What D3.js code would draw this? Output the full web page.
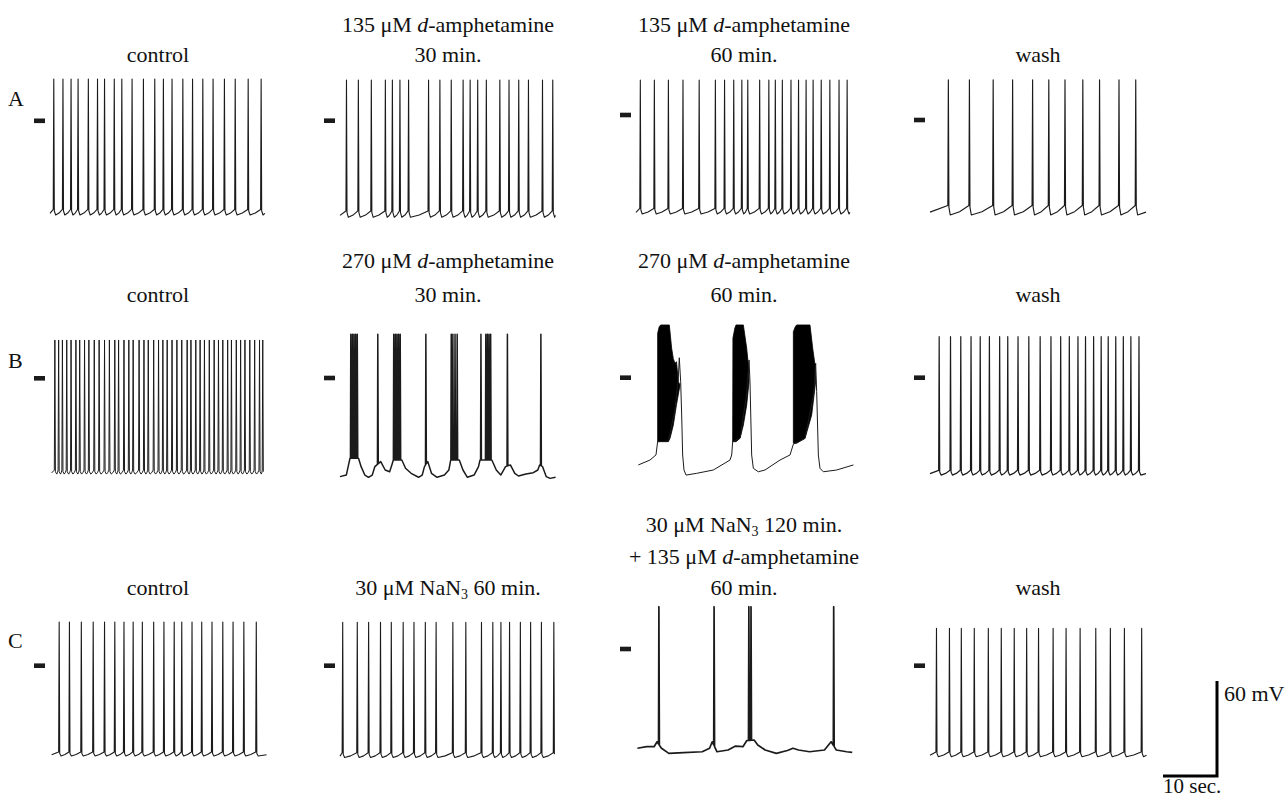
<!DOCTYPE html>
<html>
<head>
<meta charset="utf-8">
<script src="https://cdn.jsdelivr.net/npm/d3@7"></script>
<style>
  html, body { margin: 0; padding: 0; background: #fff; }
  svg { display: block; }
  text { font-family: "Liberation Serif", "Times New Roman", serif; fill: #111; }
</style>
</head>
<body>
<script>
// ---------------- DATA ----------------
const rowLabels = ["A", "B", "C"];

// Panel titles; _x_ = italic, ~x~ = subscript
const titlesA = [["control"], ["135 μM _d_-amphetamine", "30 min."], ["135 μM _d_-amphetamine", "60 min."], ["wash"]];
const titlesB = [["control"], ["270 μM _d_-amphetamine", "30 min."], ["270 μM _d_-amphetamine", "60 min."], ["wash"]];
const titlesC = [["control"], ["30 μM NaN~3~ 60 min."], ["30 μM NaN~3~ 120 min.", "+ 135 μM _d_-amphetamine", "60 min."], ["wash"]];

// Spike times (s) per panel
const spikesA1 = [0.7, 2.4, 3.9, 5.2, 7.1, 8.8, 10.1, 11.9, 13.3, 15.2, 17.3, 19.4, 21.0, 22.6, 24.6, 26.4, 28.3, 30.2, 32.3, 34.3, 36.7, 39.1];
const spikesA2 = [1.2, 3.4, 5.8, 8.4, 9.7, 11.1, 12.7, 16.4, 18.5, 20.6, 22.8, 24.1, 25.5, 27.1, 29.6, 31.3, 33.1, 34.9, 37.5, 39.4];
const spikesA3 = [0.8, 3.4, 6.0, 8.7, 11.7, 14.7, 16.4, 18.1, 19.6, 20.7, 22.9, 24.6, 25.8, 27.1, 28.7, 30.1, 31.5, 32.8, 34.3, 35.9, 37.6, 39.1];
const spikesA4 = [3.4, 7.3, 11.7, 15.3, 19.0, 22.0, 25.0, 28.3, 31.4, 35.0, 38.1];
const spikesB1 = [0.9, 1.6, 2.3, 3.1, 3.9, 4.8, 5.5, 6.4, 7.2, 8.2, 9.1, 10.1, 11.0, 12.0, 12.7, 13.7, 14.6, 15.4, 16.5, 17.4, 18.2, 19.2, 20.1, 20.9, 21.7, 22.6, 23.5, 24.4, 25.4, 26.1, 27.0, 27.8, 28.6, 29.5, 30.4, 31.2, 32.0, 32.9, 33.6, 34.5, 35.3, 36.1, 37.0, 37.9, 38.8, 39.4];
const spikesB2 = [2.0, 2.3, 2.6, 2.9, 3.2, 7.0, 9.95, 10.25, 10.55, 10.85, 11.15, 15.9, 20.6, 20.9, 21.3, 21.7, 26.1, 27.0, 27.3, 27.6, 27.9, 31.0, 37.2];
const spikesB4 = [1.7, 3.8, 5.7, 7.6, 9.3, 11.0, 12.9, 14.4, 16.3, 18.3, 20.4, 22.4, 24.2, 25.8, 27.4, 28.8, 30.3, 31.7, 33.0, 34.4, 35.8, 37.2, 38.7];
const spikesC1 = [1.7, 3.6, 5.8, 8.0, 10.1, 12.0, 13.7, 15.4, 17.1, 19.2, 21.1, 23.0, 24.4, 26.3, 28.1, 30.0, 32.0, 33.9, 35.9, 38.2];
const spikesC2 = [0.5, 3.2, 5.3, 7.5, 9.5, 11.7, 13.7, 15.8, 17.8, 20.9, 23.3, 26.2, 28.3, 29.8, 31.4, 33.4, 35.3, 37.3, 39.6];
const spikesC3 = [4.24, 14.46, 20.9, 21.3, 36.61];
const spikesC4 = [1.2, 3.6, 5.8, 8.2, 10.8, 13.2, 15.6, 17.9, 20.1, 22.8, 25.2, 27.8, 30.7, 33.4, 36.0, 39.2];

// Spike peak / pre-spike foot / after-hyperpolarisation trough (mV), rows A-C, columns 1-4
const peakMV   = [[26.4, 25.7, 22.0, 25.3], [24.2, 27.6, 12.6, 25.9], [27.6, 27.4, 26.7, 23.6]];
const footMV   = [[-56, -57, -59, -54], [-58, null, null, -58.5], [-54.5, -55, null, -54.5]];
const troughMV = [[-59.5, -61, -62.5, -60], [-60.5, null, null, -61.5], [-57, -58, null, -57.5]];
// recording start / end (s)
const traceSpan = [[[0, 39.8], [0, 39.9], [0, 39.6], [0, 40]], [[0.3, 39.6], [0, 39.9], [0.4, 40.25], [0, 40]], [[0.3, 40.1], [0, 39.9], [0.26, 40.04], [0, 40.1]]];

// Sub-threshold membrane potential [t (s), mV]
const baseB2 = [[0, -62.3], [1.17, -61.3], [1.51, -56], [1.85, -50.7], [3.43, -50.7], [3.91, -56], [4.6, -61.3], [5.28, -62.7], [5.97, -61.3], [6.45, -56], [7.54, -52.8], [8.37, -58.1], [9.19, -59.2], [9.6, -54.9], [9.88, -51.8], [11.45, -51.8], [12.14, -57], [13.17, -60.2], [14.54, -62.7], [15.23, -61.3], [15.64, -56], [16.26, -52.8], [16.94, -60.2], [17.97, -62.7], [19.34, -61.3], [20.16, -58.1], [20.5, -51.8], [22.09, -51.8], [22.77, -58.1], [23.59, -62.7], [24.83, -61.3], [25.65, -56], [25.93, -51.8], [28.12, -51.8], [28.94, -58.1], [29.77, -61.3], [30.66, -56], [31.55, -54.9], [32.37, -60.2], [33.06, -61.9], [34.43, -60.6], [35.8, -59.8], [36.63, -58.1], [36.97, -54.9], [37.52, -56], [38.2, -62.3], [38.9, -63.4], [39.92, -62.7]];
const baseC3 = [[0.26, -62.7], [1.98, -61.7], [3.35, -61.7], [3.9, -58.6], [4.72, -62.7], [6.09, -65.9], [8.83, -65.5], [12.26, -64.9], [13.63, -62.7], [14.11, -58.6], [15.0, -64.9], [17.06, -63.8], [18.43, -61.3], [19.8, -61.7], [20.5, -57.9], [21.87, -57.5], [22.55, -60.6], [23.92, -63.8], [25.98, -65.9], [28.04, -64.1], [29.07, -62.7], [30.1, -63.8], [32.15, -64.9], [34.9, -63.8], [36.13, -58.6], [37.09, -63.8], [39.01, -64.9], [40.04, -65.3]];

// B, 270 µM 60 min: membrane trace and high-frequency burst envelopes
const lineB3 = [[0.43, -55.1], [2.59, -52.0], [3.70, -48.8], [4.01, -40.4], [6.0, -40.0], [7.22, -20], [7.84, 0], [8.02, 12.6], [8.27, -2.5], [8.46, -23.6], [8.64, -48.8], [8.89, -58.3], [9.26, -61.5], [11.23, -60.4], [14.32, -58.3], [17.41, -52.0], [17.72, -48.8], [17.9, -40.4], [19.3, -38], [20.5, -10], [20.93, 11.2], [21.11, -2.5], [21.42, -48.8], [21.73, -57.2], [22.65, -59.4], [23.89, -58.3], [26.67, -52.0], [28.52, -48.8], [29.14, -42.0], [31.3, -38.3], [32.9, -10], [33.27, 9.1], [33.46, -8.8], [33.77, -48.8], [34.07, -57.2], [34.69, -59.4], [37.16, -58.3], [40.25, -55.1]];
const burstB3a = [[4.01, -40.4], [4.01, 28], [4.3, 32.2], [4.57, 33.3], [6.17, 33.3], [6.6, 18.6], [6.91, 12], [7.22, 9.1], [7.5, 10.1], [7.84, -2.5], [8.15, -4.6], [7.5, -17], [6.91, -29.9], [6.3, -38.3], [5.99, -40.4]];
const burstB3b = [[17.9, -40.4], [17.95, 25], [18.3, 31.2], [18.52, 33.3], [19.88, 33.3], [20.5, 18.6], [20.8, 8.0], [20.93, -2.5], [20.5, -17.2], [19.88, -29.9], [19.26, -38.3], [18.52, -40.4]];
const burstB3c = [[29.14, -41.4], [29.14, 29.1], [29.5, 32.2], [29.75, 33.3], [32.22, 33.3], [32.72, 18.6], [33.15, 8.0], [33.27, -2.5], [32.53, -23.6], [31.3, -38.3], [29.75, -41.4]];

// Calibration bars
const scaleBarSec = 10;
const scaleBarMV = 60;
const scaleBarLabels = ["60 mV", "10 sec."];

// ---------------- LAYOUT ----------------
const W = 1287, H = 800;
const colLeft = [50, 340, 636, 930];
const panelSpanSec = 40, panelW = 216;
const pxPerMV = 95 / 60;
const zeroY = [[120.8, 120.7, 115, 120], [378.3, 378, 377.7, 377.7], [665.7, 665.7, 649, 665.7]];
const titleBottom = [62, 302, 595];
const titleGap = [30, 34, 31.5];
const labelBase = [106, 368, 648];
const strokeW = [[1.1, 1.1, 1.1, 1.15], [1.0, 1.5, 1.0, 1.2], [1.1, 1.1, 1.7, 1.1]];
const ink = "#1b1b1b";

const svg = d3.select("body").append("svg").attr("width", W).attr("height", H);
svg.append("rect").attr("width", W).attr("height", H).attr("fill", "#fff");

function xScale(c) { return d3.scaleLinear().domain([0, panelSpanSec]).range([colLeft[c], colLeft[c] + panelW]); }
function yScale(r, c) { return d3.scaleLinear().domain([0, 60]).range([zeroY[r][c], zeroY[r][c] - 60 * pxPerMV]); }

// regular pacemaker trace built from spike times
function regularTrace(spikes, peak, foot, trough, span) {
  const [t0, t1] = span;
  const pts = [[t0, trough + (foot - trough) * 0.3]];
  spikes.forEach((s, i) => {
    if (i > 0) {
      const a = spikes[i - 1] + 0.35, b = s - 0.1;
      if (b > a) pts.push([(a + b) / 2, trough + (foot - trough) * 0.35]);
    }
    pts.push([s - 0.1, foot], [s, peak], [s + 0.1, foot - 1], [s + 0.35, trough]);
  });
  const last = spikes[spikes.length - 1];
  if (t1 > last + 0.35) pts.push([t1, trough + (foot - trough) * 0.3]);
  return pts.filter(p => p[0] >= t0 && p[0] <= t1).sort((a, b) => a[0] - b[0]);
}
// trace built from a baseline plus spike times
function baselineTrace(base, spikes, peak) {
  const interp = d3.scaleLinear().domain(base.map(d => d[0])).range(base.map(d => d[1])).clamp(true);
  const pts = base.filter(d => !spikes.some(s => d[0] > s - 0.08 && d[0] < s + 0.1)).map(d => d.slice());
  spikes.forEach(s => {
    pts.push([s - 0.07, interp(s - 0.07)], [s, peak], [s + 0.09, interp(s + 0.09)]);
  });
  return pts.sort((a, b) => a[0] - b[0]);
}

const spikeSets = [[spikesA1, spikesA2, spikesA3, spikesA4], [spikesB1, spikesB2, null, spikesB4], [spikesC1, spikesC2, spikesC3, spikesC4]];
const titleSets = [titlesA, titlesB, titlesC];

function addRichText(g, str, x, y) {
  const t = g.append("text").attr("x", x).attr("y", y).attr("text-anchor", "middle").attr("font-size", 22);
  const parts = str.split(/(_[^_]+_|~[^~]+~)/).filter(p => p.length);
  let shifted = false;
  parts.forEach(p => {
    if (p[0] === "_") {
      t.append("tspan").attr("font-style", "italic").attr("dy", shifted ? -4 : 0).text(p.slice(1, -1));
      shifted = false;
    } else if (p[0] === "~") {
      t.append("tspan").attr("font-size", 14).attr("dy", 4).text(p.slice(1, -1));
      shifted = true;
    } else {
      t.append("tspan").attr("dy", shifted ? -4 : 0).text(p);
      shifted = false;
    }
  });
}

for (let r = 0; r < 3; r++) {
  // row letter
  svg.append("text").attr("x", 8).attr("y", labelBase[r]).attr("font-size", 22).text(rowLabels[r]);
  for (let c = 0; c < 4; c++) {
    const x = xScale(c), y = yScale(r, c);
    const g = svg.append("g");
    // title
    const lines = titleSets[r][c];
    lines.forEach((ln, i) => {
      const yy = titleBottom[r] - (lines.length - 1 - i) * titleGap[r];
      addRichText(g, ln, (x.range()[0] + x.range()[1]) / 2, yy);
    });
    // 0 mV marker
    g.append("rect").attr("x", x(0) - 16).attr("y", y(0) - 2.3).attr("width", 11).attr("height", 4.6).attr("fill", ink);

    const line = d3.line().x(d => x(d[0])).y(d => y(d[1]));
    let pts;
    if (r === 1 && c === 2) {
      [burstB3a, burstB3b, burstB3c].forEach(b => {
        g.append("path").attr("d", line(b) + "Z").attr("fill", "#000").attr("stroke", "#000").attr("stroke-width", 0.8).attr("stroke-linejoin", "round");
      });
      pts = lineB3;
    } else if (r === 1 && c === 1) {
      pts = baselineTrace(baseB2, spikesB2, peakMV[r][c]);
    } else if (r === 2 && c === 2) {
      pts = baselineTrace(baseC3, spikesC3, peakMV[r][c]);
    } else {
      pts = regularTrace(spikeSets[r][c], peakMV[r][c], footMV[r][c], troughMV[r][c], traceSpan[r][c]);
    }
    g.append("path").attr("d", line(pts)).attr("fill", "none").attr("stroke", ink)
      .attr("stroke-width", strokeW[r][c]).attr("stroke-linejoin", "round");
  }
}

// calibration bars
const barX = d3.scaleLinear().domain([0, panelSpanSec]).range([1163, 1163 + panelW]);
const barY = d3.scaleLinear().domain([0, 60]).range([776, 776 - 60 * pxPerMV]);
const gb = svg.append("g");
gb.append("path")
  .attr("d", d3.line()([[barX(0), barY(0)], [barX(scaleBarSec), barY(0)], [barX(scaleBarSec), barY(scaleBarMV)]]))
  .attr("fill", "none").attr("stroke", "#000").attr("stroke-width", 3).attr("stroke-linecap", "butt").attr("stroke-linejoin", "miter");
gb.append("text").attr("x", barX(scaleBarSec) + 7).attr("y", barY(scaleBarMV) + 20).attr("font-size", 22).text(scaleBarLabels[0]);
gb.append("text").attr("x", barX(0)).attr("y", 793).attr("font-size", 21).text(scaleBarLabels[1]);
</script>
</body>
</html>
